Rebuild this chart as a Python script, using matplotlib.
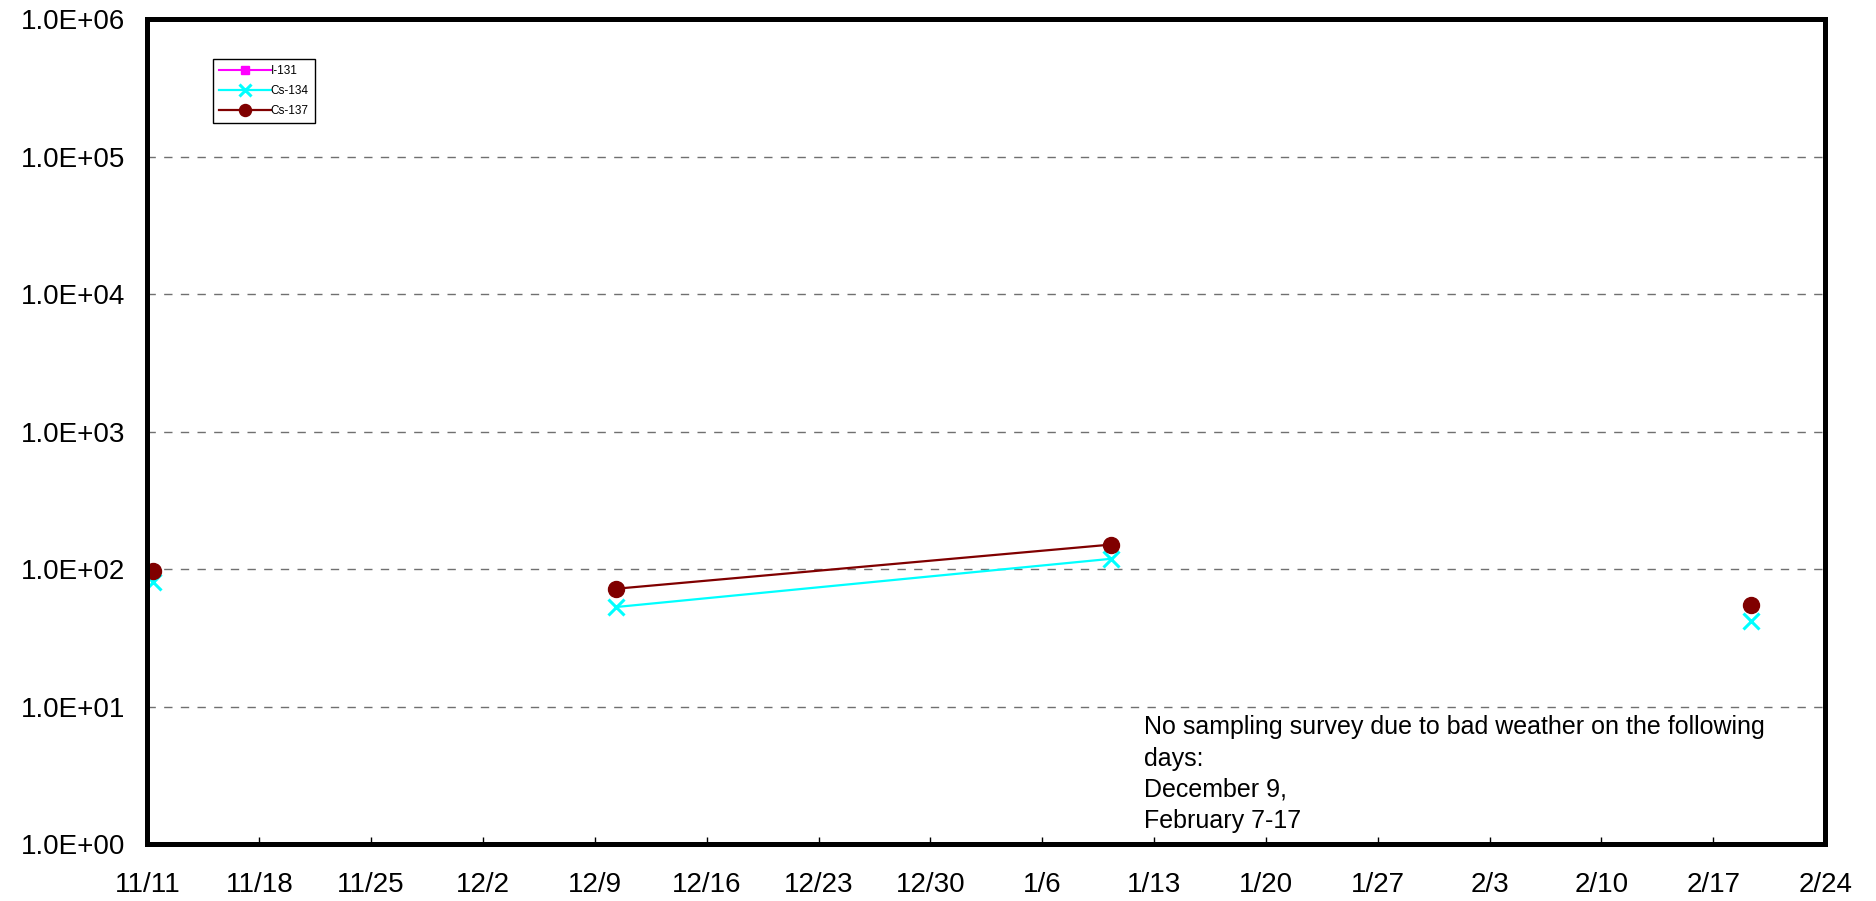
"""
Radioactivity trend chart (I-131, Cs-134, Cs-137), log scale, Nov - Feb.
"""
import numpy as np
import pandas as pd
import matplotlib
matplotlib.use('Agg')
from matplotlib import pyplot as plt
from matplotlib.ticker import LogLocator, FuncFormatter, NullLocator

# data (NaN = no sampling / not detected)
sample_dates = ['2013-11-11 08:00', '2013-12-09 08:00', '2013-12-10 08:00',
                '2014-01-10 08:00', '2014-02-07 08:00', '2014-02-19 08:00']
i131 = [np.nan, np.nan, np.nan, np.nan, np.nan, np.nan]
cs134 = [81, np.nan, 53, 119, np.nan, 42]
cs137 = [97, np.nan, 72, 151, np.nan, 55]

series_labels = ['I-131', 'Cs-134', 'Cs-137']
x_start, x_end = '2013-11-11', '2014-02-24'
note = ('No sampling survey due to bad weather on the following\n'
        'days:\nDecember 9,\nFebruary 7-17')

plt.rcParams['font.family'] = ['Liberation Sans', 'DejaVu Sans']

x = pd.to_datetime(sample_dates)

fig = plt.figure(figsize=(18.76, 9.01), dpi=100)
ax = fig.add_axes([0.0786, 0.0633, 0.8943, 0.9151])

ax.plot(x, i131, color='#FF00FF', marker='s', markersize=8, linewidth=1.5,
        label=series_labels[0])
ax.plot(x, cs134, color='#00FFFF', marker='x', markersize=11, markeredgewidth=2.2,
        linewidth=1.6, label=series_labels[1])
ax.plot(x, cs137, color='#800000', marker='o', markersize=11.5, linewidth=1.6,
        label=series_labels[2])

# axes
ax.set_yscale('log')
ax.set_ylim(1, 1e6)
ax.yaxis.set_major_locator(LogLocator(base=10, numticks=10))
ax.yaxis.set_minor_locator(NullLocator())
ax.yaxis.set_major_formatter(FuncFormatter(lambda v, p: f'{v:.1E}'))

ax.set_xlim(pd.Timestamp(x_start), pd.Timestamp(x_end))
ticks = pd.date_range(x_start, x_end, freq='7D')
ax.set_xticks(ticks)
ax.set_xticklabels([f'{d.month}/{d.day}' for d in ticks])

ax.tick_params(axis='x', direction='in', length=5, width=1, pad=20, labelsize=20)
ax.tick_params(axis='y', direction='in', length=0, pad=16, labelsize=20)
ax.xaxis.get_offset_text().set_visible(False)
ax.yaxis.get_offset_text().set_visible(False)

for s in ax.spines.values():
    s.set_linewidth(3.6)
    s.set_color('black')

ax.grid(axis='y', which='major', color='#707070', linestyle=(0, (6, 6)), linewidth=1)
ax.set_axisbelow(True)

# legend
leg = ax.legend(loc='upper left', bbox_to_anchor=(0.039, 0.952), borderaxespad=0,
                fontsize=8.5, handlelength=4.4, frameon=True, fancybox=False,
                framealpha=1, edgecolor='black', borderpad=0.5, labelspacing=0.7,
                handletextpad=0.0, markerscale=0.75)
leg.get_frame().set_linewidth(1)

# note
ax.text(0.594, 0.156, note, transform=ax.transAxes, ha='left', va='top',
        fontsize=18, linespacing=1.38)

fig.savefig('out.png', dpi=100)
